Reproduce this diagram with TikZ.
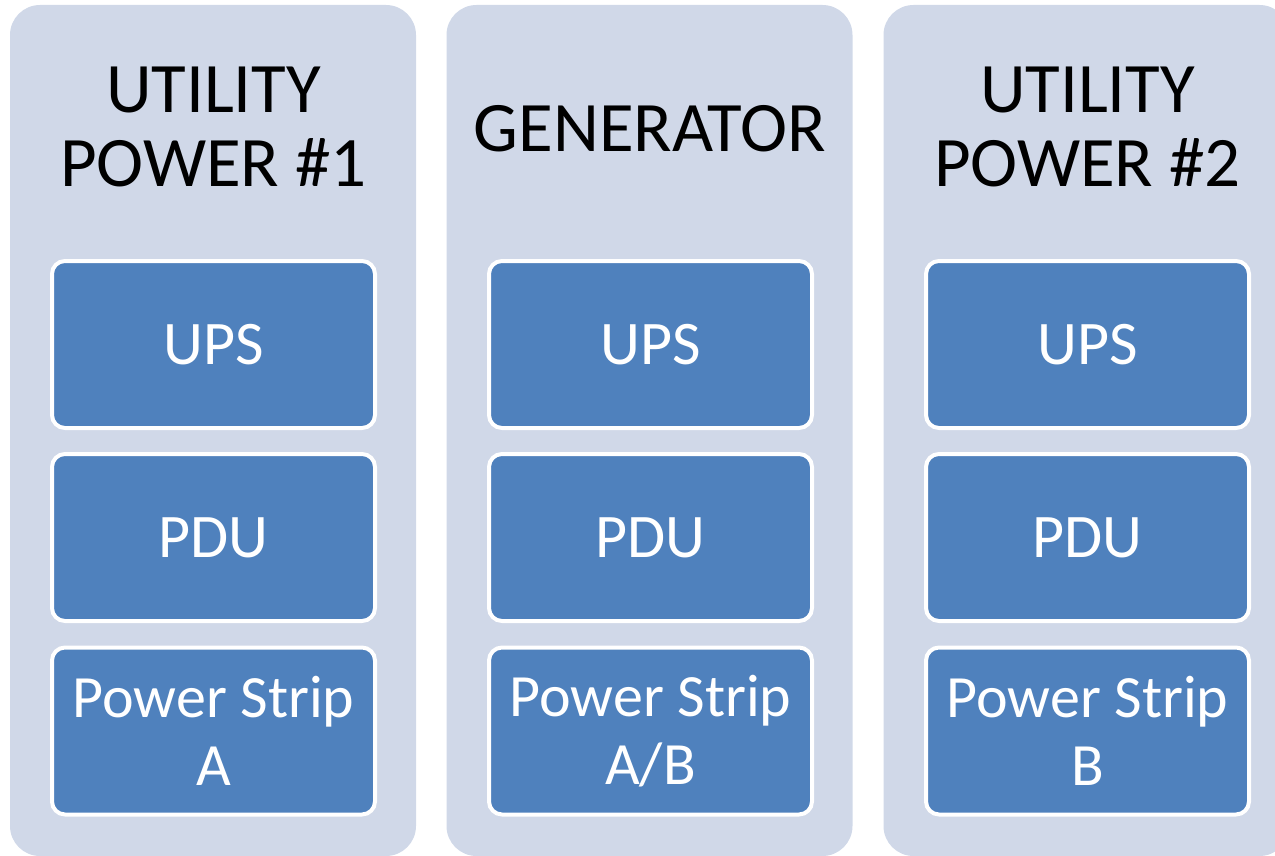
\documentclass[tikz,border=0pt]{standalone}
\usepackage{fontspec}
\setmainfont{Carlito}
\usepackage{tikz}
\usetikzlibrary{positioning}
\definecolor{colbg}{HTML}{D0D8E8}
\definecolor{boxblue}{HTML}{4F81BD}

\begin{document}
\begin{tikzpicture}[x=1pt, y=-1pt,
  column/.style={fill=colbg, rounded corners=30pt, minimum width=406pt, minimum height=851pt, inner sep=0pt},
  heading/.style={align=center, font=\fontsize{71}{74}\selectfont, text=black},
  unit/.style={fill=boxblue, draw=white, line width=4pt, rounded corners=13pt, minimum width=323pt, minimum height=167pt, inner sep=0pt, text=white, align=center, font=\fontsize{62}{67}\selectfont},
  strip/.style={unit, font=\fontsize{60}{68}\selectfont}]
\useasboundingbox (0,0) rectangle (1275,856);
\clip (0,0) rectangle (1275,856);
% columns
\node[column] (col1) at (213,430.5) {};
\node[column] (col2) at (649.5,430.5) {};
\node[column] (col3) at (1086.5,430.5) {};
% headings
\node[heading] (head1) at (213.5,127) {UTILITY\\POWER \#1};
\node[heading] (head2) at (650,129) {GENERATOR};
\node[heading] (head3) at (1087.5,127) {UTILITY\\POWER \#2};
% left stack
\node[unit] (ups1) at (213.5,344.5) {UPS};
\node[unit] (pdu1) at (213.5,537.5) {PDU};
\node[strip] (strip1) at (213.5,731) {Power Strip\\A};
% middle stack
\node[unit] (ups2) at (650.5,344.5) {UPS};
\node[unit] (pdu2) at (650.5,537.5) {PDU};
\node[strip] (strip2) at (650.5,731) {Power Strip\\A/B};
% right stack
\node[unit] (ups3) at (1087.5,344.5) {UPS};
\node[unit] (pdu3) at (1087.5,537.5) {PDU};
\node[strip] (strip3) at (1087.5,731) {Power Strip\\B};
\end{tikzpicture}
\end{document}
